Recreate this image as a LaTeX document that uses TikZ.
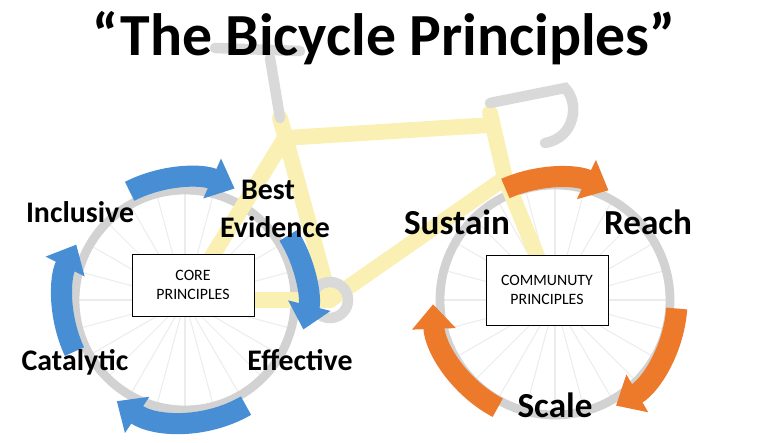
\documentclass[tikz,border=0pt]{standalone}
\usepackage{fontspec}
\setmainfont{Carlito}
\usepackage{xcolor}
\usetikzlibrary{arrows.meta, positioning, calc}
\definecolor{cycleblue}{RGB}{72,142,212}
\definecolor{cycleorange}{RGB}{236,122,42}
\definecolor{framey}{RGB}{250,240,180}
\begin{document}
\begin{tikzpicture}[
    x=0.02cm, y=0.02cm,
    rim/.style={draw=gray!35, line width=5pt},
    spoke/.style={draw=gray!15, line width=0.6pt},
    tube/.style={draw=framey, line width=9pt, line cap=round},
    part/.style={draw=gray!30, line width=6pt, line cap=round},
    cyclearrow/.style={line width=12pt, -{Triangle[width=24pt,length=14pt]}},
    label/.style={font=\bfseries\fontsize{17}{19}\selectfont},
    biglabel/.style={font=\bfseries\fontsize{20}{22}\selectfont},
    box/.style={draw, fill=white, align=center, font=\fontsize{9}{11}\selectfont, minimum width=122*0.02cm, minimum height=62*0.02cm}
]
\useasboundingbox (0,0) rectangle (768,443);
% wheels
\foreach \cx/\r in {185/110, 555/115} {
  \foreach \a in {0,15,...,345} \draw[spoke] (\cx,143) -- ++(\a:\r);
  \draw[rim] (\cx,143) circle (\r);
}
% frame
\draw[tube] (330,143) -- (280,325);
\draw[tube] (285,305) -- (490,318);
\draw[tube] (505,265) -- (330,143);
\draw[tube] (285,305) -- (185,143) -- (330,143);
\draw[tube] (490,330) -- (505,265) -- (555,143);
\draw[part] (280,325) -- (270,385);
\draw[part] (215,395) -- (300,392);
\draw[part] (490,340) -- (565,355) .. controls (580,340) and (575,305) .. (545,300);
\draw[part] (330,143) circle (18);
% core cycle
\foreach \s/\e in {117/66, 32/-14, -60/-124, -155/-207}
  \draw[cycleblue, cyclearrow] ($(185,143)+(\s:122)$) arc[start angle=\s, end angle=\e, radius=122];
% community cycle
\foreach \s/\e in {114/64, -4/-60, -118/-178}
  \draw[cycleorange, cyclearrow] ($(555,143)+(\s:122)$) arc[start angle=\s, end angle=\e, radius=122];
% texts
\node[font=\bfseries\fontsize{34}{37}\selectfont] (title) at (384,405) {“The Bicycle Principles”};
\node[box] (core) at (193,158) {CORE\\PRINCIPLES};
\node[box, minimum height=70*0.02cm] (community) at (547,153) {COMMUNUTY\\PRINCIPLES};
\node[label] (inclusive) at (80,231) {Inclusive};
\node[label] (best) at (268,253) {Best};
\node[label] (evidence) at (275,216) {Evidence};
\node[label] (effective) at (300,83) {Effective};
\node[label] (catalytic) at (75,81) {Catalytic};
\node[biglabel] (sustain) at (457,221) {Sustain};
\node[biglabel] (reach) at (648,221) {Reach};
\node[biglabel] (scale) at (555,38) {Scale};
\end{tikzpicture}
\end{document}
